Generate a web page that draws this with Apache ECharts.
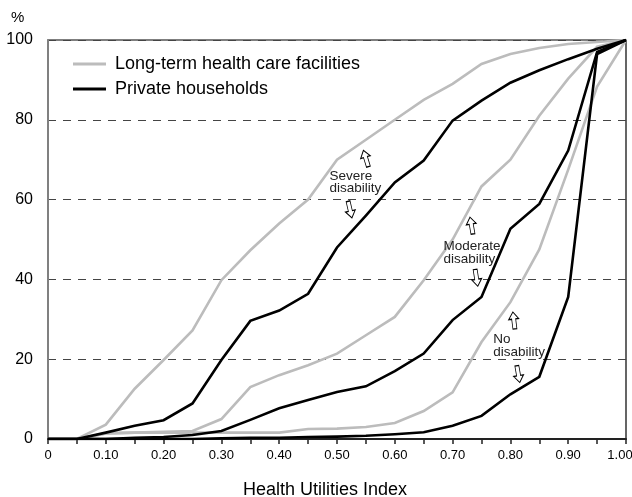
<!DOCTYPE html>
<html>
<head>
<meta charset="utf-8">
<script src="https://cdn.jsdelivr.net/npm/echarts@6/dist/echarts.min.js"></script>
<style>html,body{margin:0;padding:0;background:#fff;}#c{width:632px;height:497px;}</style>
</head>
<body>
<div id="c"></div>
<script>
// ---- data ----
const xValues = [0, 0.05, 0.10, 0.15, 0.20, 0.25, 0.30, 0.35, 0.40, 0.45, 0.50,
                 0.55, 0.60, 0.65, 0.70, 0.75, 0.80, 0.85, 0.90, 0.95, 1.00];
const xTickLabels = ['0', '0.10', '0.20', '0.30', '0.40', '0.50', '0.60', '0.70', '0.80', '0.90', '1.00'];
const yTickLabels = ['0', '20', '40', '60', '80', '100'];
const seriesNames = ['Long-term health care facilities', 'Private households'];
// Long-term health care facilities
const ltcSevere   = [0, 0, 3.6, 12.6, 19.8, 27.2, 39.8, 47.3, 54, 60, 70, 75, 80, 85, 89, 94, 96.5, 98, 99, 99.5, 100];
const ltcModerate = [0, 0, 1.4, 1.6, 1.8, 2, 5, 13, 16, 18.5, 21.4, 26, 30.6, 39.8, 50, 63.3, 70, 81, 90.3, 98.3, 100];
const ltcNone     = [0, 0, 1.4, 1.6, 1.6, 1.6, 1.6, 1.6, 1.6, 2.5, 2.6, 3, 4, 7, 11.7, 24.3, 34.3, 47.5, 67.5, 88.3, 100];
// Private households
const phSevere    = [0, 0, 1.6, 3.3, 4.7, 8.9, 19.8, 29.6, 32.2, 36.4, 48, 56, 64.3, 69.8, 79.8, 84.8, 89.3, 92.4, 95.2, 97.8, 100];
const phModerate  = [0, 0, 0, 0.3, 0.5, 1, 2, 4.8, 7.7, 9.8, 11.8, 13.2, 17, 21.4, 29.8, 35.6, 52.7, 58.9, 72.3, 97, 100];
const phNone      = [0, 0, 0, 0, 0, 0, 0.2, 0.3, 0.3, 0.5, 0.6, 0.8, 1.2, 1.7, 3.3, 5.8, 11.2, 15.6, 35.6, 96.5, 100];

// ---- chart ----
const FONT = "'Liberation Sans', Arial, sans-serif";
const GRAY = '#bcbcbc';
const BLACK = '#000000';
const arrowPath = 'path://M5,0 L10,7 L7,7 L7,17 L3,17 L3,7 L0,7 Z';

function mk(name, vals, color, z) {
  return {
    type: 'line', name: name,
    data: xValues.map((x, i) => [x, vals[i]]),
    symbol: 'none', smooth: false,
    lineStyle: { color: color, width: 2.6, join: 'miter' },
    itemStyle: { color: color },
    z: z, animation: false
  };
}

function arrow(x, y, rot) {
  return {
    coord: [x, y], symbol: arrowPath, symbolSize: [10, 17], symbolRotate: rot,
    itemStyle: { color: '#ffffff', borderColor: '#000', borderWidth: 1 },
    label: { show: false }
  };
}
function note(x, y, txt) {
  return {
    coord: [x, y], symbol: 'circle', symbolSize: 1,
    itemStyle: { color: 'rgba(0,0,0,0)' },
    label: {
      show: true, formatter: txt, position: 'right', distance: 0,
      align: 'left', verticalAlign: 'middle',
      fontFamily: FONT, fontSize: 13.5, lineHeight: 12.5, color: '#222'
    }
  };
}

const annotations = mk('__notes', [], BLACK, 10);
annotations.data = [];
annotations.markPoint = {
  silent: true, animation: false,
  data: [
    arrow(0.550, 70.3, 17), note(0.4862, 64.4, 'Severe\ndisability'), arrow(0.5225, 57.5, 193),
    arrow(0.7327, 53.5, 10), note(0.6834, 46.7, 'Moderate\ndisability'), arrow(0.7413, 40.4, 189),
    arrow(0.806, 29.7, 7), note(0.7694, 23.4, 'No\ndisability'), arrow(0.8137, 16.25, 190)
  ]
};

const chart = echarts.init(document.getElementById('c'), null, { renderer: 'canvas' });
chart.setOption({
  animation: false,
  backgroundColor: '#ffffff',
  textStyle: { fontFamily: FONT },
  grid: { left: 48, right: 6, top: 40, bottom: 58, outerBoundsMode: 'none', containLabel: false,
          show: true, borderColor: '#000', borderWidth: 1.2, backgroundColor: 'transparent' },
  legend: {
    data: seriesNames,
    orient: 'vertical', left: 73, top: 55, padding: 0,
    icon: 'rect', itemWidth: 33, itemHeight: 3, itemGap: 7,
    textStyle: { fontFamily: FONT, fontSize: 18, lineHeight: 18, color: '#000', padding: [0, 0, 0, 4] },
    selectedMode: false
  },
  xAxis: {
    type: 'value', min: 0, max: 1, interval: 0.05,
    name: 'Health Utilities Index', nameLocation: 'middle', nameGap: 42,
    nameTextStyle: { fontFamily: FONT, fontSize: 18, lineHeight: 18, color: '#000', padding: [0, 24, 0, 0] },
    axisLine: { show: true, onZero: false, lineStyle: { color: '#222', width: 2 } },
    axisTick: { show: true, length: 5, lineStyle: { color: '#222', width: 1.5 } },
    axisLabel: {
      margin: 10, fontFamily: FONT, fontSize: 13, color: '#000',
      formatter: function (v) {
        const k = Math.round(v * 100);
        if (k % 10 !== 0) return '';
        const idx = k / 10;
        if (idx === xTickLabels.length - 1) return '{r|' + xTickLabels[idx] + '}';
        return xTickLabels[idx];
      },
      rich: { r: { fontFamily: FONT, fontSize: 13, color: '#000', padding: [0, 12, 0, 0] } }
    },
    splitLine: { show: false }
  },
  yAxis: {
    type: 'value', min: 0, max: 100, interval: 20,
    axisLine: { show: true, lineStyle: { color: '#808080', width: 2 } },
    axisTick: { show: false },
    axisLabel: {
      margin: 15, fontFamily: FONT, fontSize: 16, color: '#000', padding: [3, 0, 0, 0],
      formatter: function (v) { return yTickLabels[Math.round(v / 20)]; }
    },
    splitLine: { show: true, lineStyle: { color: '#444', width: 1.2, type: [8, 7] } }
  },
  graphic: [
    { type: 'text', left: 11, top: 10, style: { text: '%', fontFamily: FONT, fontSize: 15, fill: '#000' } }
  ],
  series: [
    mk(seriesNames[0], ltcSevere, GRAY, 2),
    mk(seriesNames[0], ltcModerate, GRAY, 2),
    mk(seriesNames[0], ltcNone, GRAY, 2),
    mk(seriesNames[1], phSevere, BLACK, 3),
    mk(seriesNames[1], phModerate, BLACK, 3),
    mk(seriesNames[1], phNone, BLACK, 3),
    annotations
  ]
});
</script>
</body>
</html>
